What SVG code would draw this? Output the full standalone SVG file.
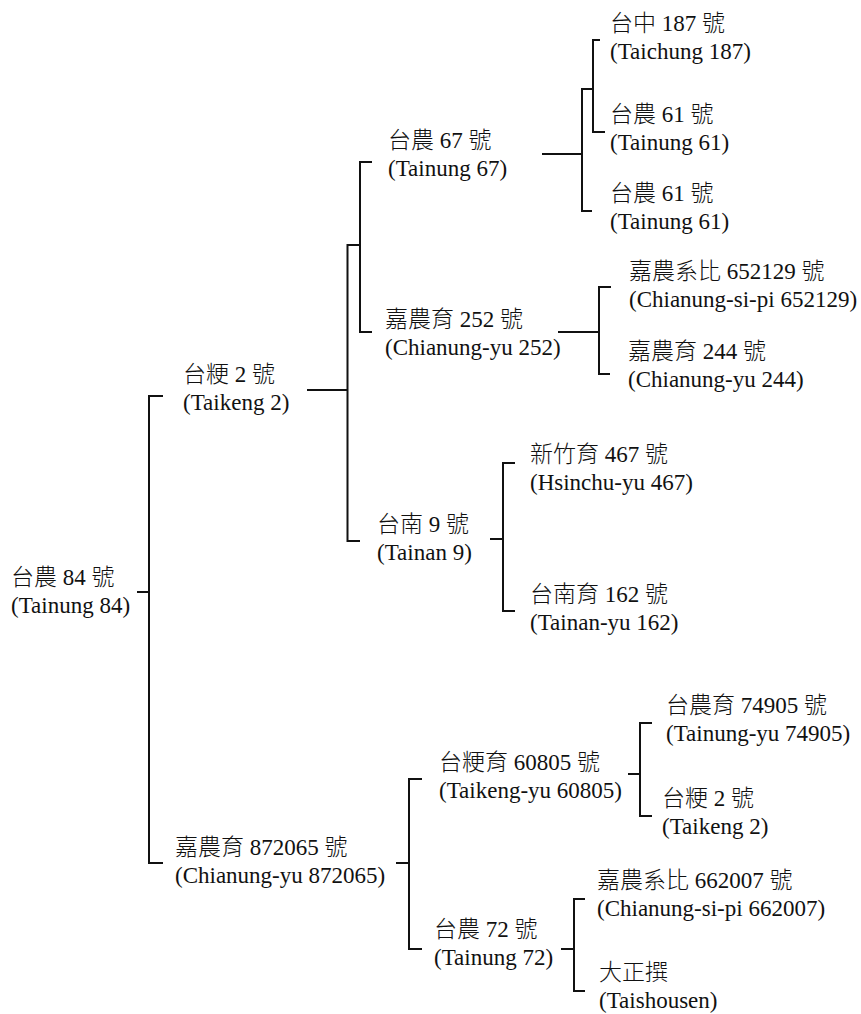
<svg xmlns="http://www.w3.org/2000/svg" width="861" height="1014" viewBox="0 0 861 1014">
<style>
text{font-family:"Liberation Serif","Noto Sans CJK TC",serif;font-size:23px;font-weight:300;fill:#111}
.e{font-family:"Liberation Serif","Times New Roman",serif;font-weight:400}
.c path{fill:none;stroke:#111;stroke-width:2;stroke-linecap:butt;stroke-linejoin:miter}
</style>
<rect width="861" height="1014" fill="#fff"/>
<g class="c" id="connectors">
<path d="M137,592H149M163,396H149V863H163"/>
<path d="M307,390H347.5M360,245H347.5V541H360"/>
<path d="M372,162H360V332H372"/>
<path d="M542,154H582M593,89H582V211H592M600,40H593V132H605"/>
<path d="M558,332H599M611,287H599V374H610"/>
<path d="M490,539H503M515,463H503V611H515"/>
<path d="M396,863H409M422,779H409V949H422"/>
<path d="M628,774H640M652,723H640V816H652"/>
<path d="M561,949H574M585,899H574V991H585"/>
</g>
<g id="n-tainung84"><text x="11" y="585">台農 84 號<tspan class="e" x="11" dy="28">(Tainung 84)</tspan></text></g>
<g id="n-taikeng2"><text x="183" y="382">台粳 2 號<tspan class="e" x="183" dy="28">(Taikeng 2)</tspan></text></g>
<g id="n-tainung67"><text x="388" y="148">台農 67 號<tspan class="e" x="388" dy="28">(Tainung 67)</tspan></text></g>
<g id="n-taichung187"><text x="610" y="31">台中 187 號<tspan class="e" x="610" dy="28">(Taichung 187)</tspan></text></g>
<g id="n-tainung61a"><text x="610" y="122">台農 61 號<tspan class="e" x="610" dy="28">(Tainung 61)</tspan></text></g>
<g id="n-tainung61b"><text x="610" y="201">台農 61 號<tspan class="e" x="610" dy="28">(Tainung 61)</tspan></text></g>
<g id="n-chianungyu252"><text x="385" y="327">嘉農育 252 號<tspan class="e" x="385" dy="28">(Chianung-yu 252)</tspan></text></g>
<g id="n-chianungsipi652129"><text x="629" y="279">嘉農系比 652129 號<tspan class="e" x="629" dy="28">(Chianung-si-pi 652129)</tspan></text></g>
<g id="n-chianungyu244"><text x="628" y="359">嘉農育 244 號<tspan class="e" x="628" dy="28">(Chianung-yu 244)</tspan></text></g>
<g id="n-tainan9"><text x="377" y="532">台南 9 號<tspan class="e" x="377" dy="28">(Tainan 9)</tspan></text></g>
<g id="n-hsinchuyu467"><text x="530" y="462">新竹育 467 號<tspan class="e" x="530" dy="28">(Hsinchu-yu 467)</tspan></text></g>
<g id="n-tainanyu162"><text x="530" y="602">台南育 162 號<tspan class="e" x="530" dy="28">(Tainan-yu 162)</tspan></text></g>
<g id="n-chianungyu872065"><text x="175" y="855">嘉農育 872065 號<tspan class="e" x="175" dy="28">(Chianung-yu 872065)</tspan></text></g>
<g id="n-taikengyu60805"><text x="439" y="770">台粳育 60805 號<tspan class="e" x="439" dy="28">(Taikeng-yu 60805)</tspan></text></g>
<g id="n-tainungyu74905"><text x="666" y="713">台農育 74905 號<tspan class="e" x="666" dy="28">(Tainung-yu 74905)</tspan></text></g>
<g id="n-taikeng2b"><text x="662" y="806">台粳 2 號<tspan class="e" x="662" dy="28">(Taikeng 2)</tspan></text></g>
<g id="n-tainung72"><text x="434" y="937">台農 72 號<tspan class="e" x="434" dy="28">(Tainung 72)</tspan></text></g>
<g id="n-chianungsipi662007"><text x="597" y="888">嘉農系比 662007 號<tspan class="e" x="597" dy="28">(Chianung-si-pi 662007)</tspan></text></g>
<g id="n-taishousen"><text x="599" y="980">大正撰<tspan class="e" x="599" dy="28">(Taishousen)</tspan></text></g>
</svg>
